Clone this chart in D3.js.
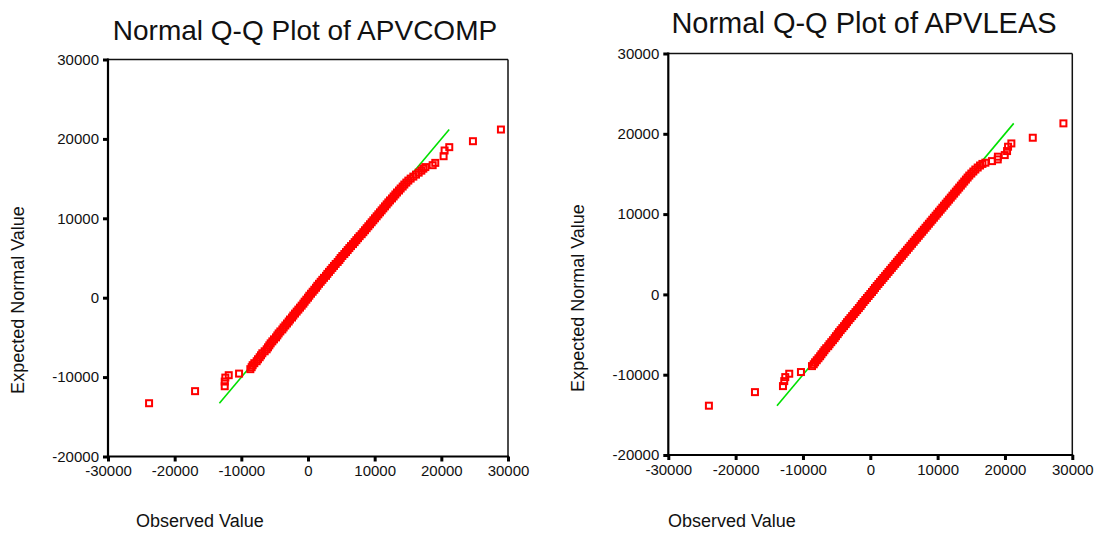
<!DOCTYPE html>
<html>
<head>
<meta charset="utf-8">
<script src="https://cdn.jsdelivr.net/npm/d3@7"></script>
<style>
  html, body { margin: 0; padding: 0; background: #fff; }
  svg { display: block; font-family: "Liberation Sans", Arial, sans-serif; }
</style>
</head>
<body>
<svg id="chart" width="1096" height="533"></svg>
<script>
// ---- Data: observed values (x) and expected normal values (y) ----
const xTicks = [-30000, -20000, -10000, 0, 10000, 20000, 30000];
const yTicks = [-20000, -10000, 0, 10000, 20000, 30000];

// APVCOMP
const compObserved = [
  -23840, -16940, -12490, -12490, -12400, -11890, -10340,
  -8650, -8450, -8300, -8050, -7700, -7500, -7250, -7050, -6850, -6500,
  -6200, -6000, -5800, -5600, -5350, -5100, -4800, -4600, -4400, -4150,
  -3850, -3650, -3400, -3150, -2900, -2700, -2400, -2200, -1950, -1700,
  -1450, -1200, -950, -700, -500, -250, 0, 200, 450, 700,
  950, 1200, 1400, 1650, 1900, 2150, 2400, 2700, 2900, 3150,
  3400, 3650, 3900, 4150, 4450, 4700, 4900, 5150, 5450, 5700,
  5950, 6200, 6450, 6750, 7000, 7250, 7500, 7750, 8050, 8300,
  8550, 8800, 9050, 9300, 9550, 9800, 10050, 10300, 10550, 10800,
  11050, 11300, 11550, 11800, 12050, 12300, 12600, 12850, 13100, 13350,
  13650, 13900, 14200, 14450, 14750, 15050, 15400, 15800, 16200, 16600,
  17000, 17300, 17600,
  18700, 19090, 20340, 20490, 21190, 24740, 28940
];
const compExpected = [
  -13290, -11770, -11150, -10560, -10060, -9760, -9560,
  -9000, -8750, -8500, -8250, -8000, -7750, -7500, -7250, -7000, -6750,
  -6500, -6250, -6000, -5750, -5500, -5250, -5000, -4750, -4500, -4250,
  -4000, -3750, -3500, -3250, -3000, -2750, -2500, -2250, -2000, -1750,
  -1500, -1250, -1000, -750, -500, -250, 0, 250, 500, 750,
  1000, 1250, 1500, 1750, 2000, 2250, 2500, 2750, 3000, 3250,
  3500, 3750, 4000, 4250, 4500, 4750, 5000, 5250, 5500, 5750,
  6000, 6250, 6500, 6750, 7000, 7250, 7500, 7750, 8000, 8250,
  8500, 8750, 9000, 9250, 9500, 9750, 10000, 10250, 10500, 10750,
  11000, 11250, 11500, 11750, 12000, 12250, 12500, 12750, 13000, 13250,
  13500, 13750, 14000, 14250, 14500, 14750, 15000, 15250, 15500, 15750,
  16000, 16250, 16450,
  16690, 16980, 17820, 18540, 18960, 19710, 21180
];

// APVLEAS
const leasObserved = [
  -23970, -17130, -12970, -12780, -12630, -12040, -10300,
  -8660, -8400, -8200, -7950, -7700, -7450, -7250, -7000, -6800, -6550,
  -6250, -6050, -5800, -5550, -5300, -5100, -4850, -4650, -4400, -4150,
  -3900, -3650, -3450, -3200, -2950, -2700, -2450, -2200, -1950, -1700,
  -1450, -1250, -1000, -750, -500, -250, 0, 250, 500, 700,
  950, 1200, 1450, 1700, 1950, 2200, 2450, 2700, 2950, 3200,
  3450, 3700, 3950, 4200, 4450, 4700, 4950, 5200, 5450, 5700,
  5950, 6200, 6450, 6700, 6950, 7200, 7450, 7700, 7950, 8200,
  8450, 8700, 8950, 9200, 9450, 9700, 9950, 10200, 10450, 10700,
  10950, 11200, 11450, 11700, 11950, 12200, 12450, 12700, 12950, 13200,
  13450, 13700, 13950, 14200, 14450, 14700, 15000, 15300, 15600, 15950,
  16300, 16650, 17090,
  18080, 18930, 18950, 19970, 20310, 20460, 20950, 24130, 28680
];
const leasExpected = [
  -13860, -12170, -11420, -10800, -10300, -9880, -9670,
  -8930, -8700, -8450, -8200, -7950, -7700, -7450, -7200, -6950, -6700,
  -6450, -6200, -5950, -5700, -5450, -5200, -4950, -4700, -4450, -4200,
  -3950, -3700, -3450, -3200, -2950, -2700, -2450, -2200, -1950, -1700,
  -1450, -1200, -950, -700, -450, -200, 50, 300, 550, 800,
  1050, 1300, 1550, 1800, 2050, 2300, 2550, 2800, 3050, 3300,
  3550, 3800, 4050, 4300, 4550, 4800, 5050, 5300, 5550, 5800,
  6050, 6300, 6550, 6800, 7050, 7300, 7550, 7800, 8050, 8300,
  8550, 8800, 9050, 9300, 9550, 9800, 10050, 10300, 10550, 10800,
  11050, 11300, 11550, 11800, 12050, 12300, 12550, 12800, 13050, 13300,
  13550, 13800, 14050, 14300, 14550, 14800, 15050, 15300, 15550, 15800,
  16050, 16250, 16400,
  16600, 16810, 17150, 17350, 17850, 18390, 18800, 19510, 21300
];

const panels = [
  { title: "Normal Q-Q Plot of APVCOMP", titleSize: 28, obs: compObserved, exp: compExpected,
    x0: 108, x1: 508, yTop: 59.5, yBot: 456.5, titleX: 305, titleY: 40,
    yLabelX: 24, yLabelY: 300, xLabelX: 136, xLabelY: 527 },
  { title: "Normal Q-Q Plot of APVLEAS", titleSize: 29, obs: leasObserved, exp: leasExpected,
    x0: 668.3, x1: 1072.3, yTop: 53.5, yBot: 455, titleX: 864, titleY: 33,
    yLabelX: 584, yLabelY: 298, xLabelX: 668, xLabelY: 527 }
];

const svg = d3.select("#chart");
const plainNumber = d => String(d);

panels.forEach(p => {
  const g = svg.append("g");
  const x = d3.scaleLinear().domain([-30000, 30000]).range([p.x0, p.x1]);
  const y = d3.scaleLinear().domain([-20000, 30000]).range([p.yBot, p.yTop]);

  // title
  g.append("text")
    .attr("x", p.titleX).attr("y", p.titleY)
    .attr("text-anchor", "middle")
    .attr("font-size", p.titleSize)
    .attr("fill", "#111")
    .text(p.title);

  // axes
  const yAxis = g.append("g")
    .attr("transform", `translate(${p.x0},0)`)
    .call(d3.axisLeft(y).tickValues(yTicks).tickFormat(plainNumber).tickSize(5).tickPadding(4));
  const xAxis = g.append("g")
    .attr("transform", `translate(0,${p.yBot})`)
    .call(d3.axisBottom(x).tickValues(xTicks).tickFormat(plainNumber).tickSize(5).tickPadding(4));
  [yAxis, xAxis].forEach(a => {
    a.select(".domain").remove();
    a.selectAll(".tick line").attr("stroke", "#000").attr("stroke-width", 3);
    a.selectAll(".tick text").attr("font-size", 15).attr("fill", "#111")
      .style("font-family", "'Liberation Sans', Arial, sans-serif");
  });

  // frame
  g.append("line").attr("x1", p.x0).attr("x2", p.x1).attr("y1", p.yTop).attr("y2", p.yTop)
    .attr("stroke", "#111").attr("stroke-width", 1.5);
  g.append("line").attr("x1", p.x1).attr("x2", p.x1).attr("y1", p.yTop).attr("y2", p.yBot)
    .attr("stroke", "#111").attr("stroke-width", 1.5);
  g.append("line").attr("x1", p.x0).attr("x2", p.x0).attr("y1", p.yTop - 1).attr("y2", p.yBot + 1)
    .attr("stroke", "#000").attr("stroke-width", 2.2);
  g.append("line").attr("x1", p.x0 - 1).attr("x2", p.x1 + 1).attr("y1", p.yBot).attr("y2", p.yBot)
    .attr("stroke", "#000").attr("stroke-width", 2.2);

  // reference line y = x across the expected-value range
  const lo = d3.min(p.exp), hi = d3.max(p.exp);
  g.append("line")
    .attr("x1", x(lo)).attr("y1", y(lo))
    .attr("x2", x(hi)).attr("y2", y(hi))
    .attr("stroke", "#00e000").attr("stroke-width", 1.6);

  // points: hollow squares, overlapping into a solid band where dense
  const pts = p.obs.map((o, i) => ({ o, e: p.exp[i] }));
  g.append("g").selectAll("rect").data(pts).join("rect")
    .attr("x", d => x(d.o) - 3).attr("y", d => y(d.e) - 3)
    .attr("width", 6).attr("height", 6)
    .attr("fill", "none").attr("stroke", "#ff0000").attr("stroke-width", 2);

  // axis titles
  g.append("text")
    .attr("transform", `translate(${p.yLabelX},${p.yLabelY}) rotate(-90)`)
    .attr("text-anchor", "middle")
    .attr("font-size", 18).attr("fill", "#111")
    .text("Expected Normal Value");
  g.append("text")
    .attr("x", p.xLabelX).attr("y", p.xLabelY)
    .attr("font-size", 18).attr("fill", "#111")
    .text("Observed Value");
});
</script>
</body>
</html>
